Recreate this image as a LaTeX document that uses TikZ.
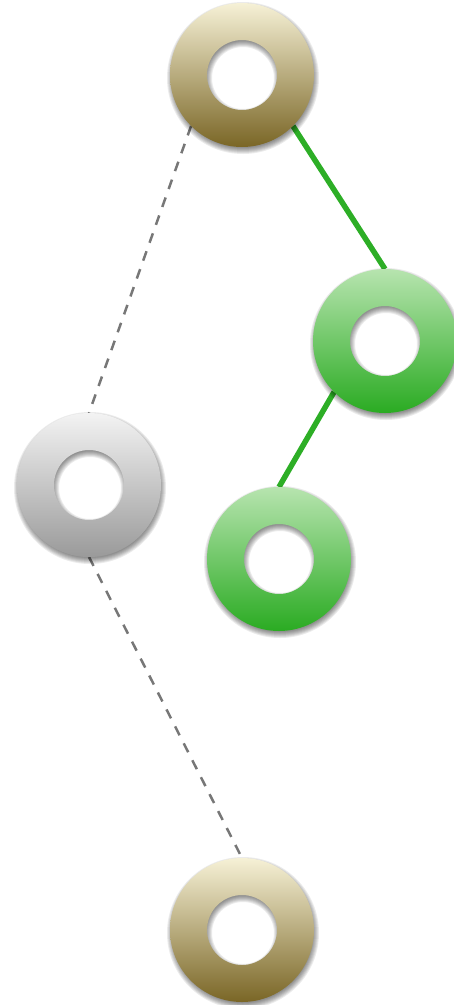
\documentclass[tikz,border=0pt]{standalone}
\definecolor{goldT}{HTML}{F6F1D6}
\definecolor{goldM}{HTML}{D4CAA0}
\definecolor{goldB}{HTML}{7A6626}
\definecolor{grayT}{HTML}{F3F3F3}
\definecolor{grayM}{HTML}{D3D3D3}
\definecolor{grayB}{HTML}{9A9A9A}
\definecolor{grnT}{HTML}{B7E4AF}
\definecolor{grnM}{HTML}{8ED384}
\definecolor{grnB}{HTML}{2AAB22}
\definecolor{edgegreen}{HTML}{2DAE26}
\definecolor{edgegray}{HTML}{777777}
\begin{document}
\begin{tikzpicture}[x=1pt,y=-1pt,
  slot/.style={circle, minimum size=144pt, inner sep=0pt, outer sep=0pt},
  treeedge/.style={draw=edgegray, line width=2.5pt, dash pattern=on 10pt off 9pt},
  activeedge/.style={draw=edgegreen, line width=5.5pt},
  ringshadow/.style={fill=black, fill opacity=0.08, even odd rule},
  ring/.style={even odd rule}]
\useasboundingbox (0,0) rectangle (454,1005);
\node[slot] (n1) at (242,75) {};
\node[slot] (n2) at (385,341) {};
\node[slot] (n3) at (89,485) {};
\node[slot] (n4) at (279,559) {};
\node[slot] (n5) at (242,930) {};
\draw[treeedge] (n1.south west) -- (n3.north);
\draw[activeedge] (n1.south east) -- (n2.north);
\draw[activeedge] (n2.south west) -- (n4.north);
\draw[treeedge] (n3.south) -- (n5.north);
\foreach \n/\t/\m/\b in {n1/goldT/goldM/goldB, n2/grnT/grnM/grnB, n3/grayT/grayM/grayB, n4/grnT/grnM/grnB, n5/goldT/goldM/goldB}{
  \foreach \d in {-2,-1,0,1,2,3,4}
    \path[ringshadow] ([xshift=1pt,yshift=-3pt]\n.center) circle[radius={(72+\d)*1pt}]
                      ([xshift=1pt,yshift=-3pt]\n.center) circle[radius={(35-\d)*1pt}];
  \path[ring, top color=\t, middle color=\m, bottom color=\b] (\n.center) circle[radius=72pt] (\n.center) circle[radius=35pt];
}
\end{tikzpicture}
\end{document}
